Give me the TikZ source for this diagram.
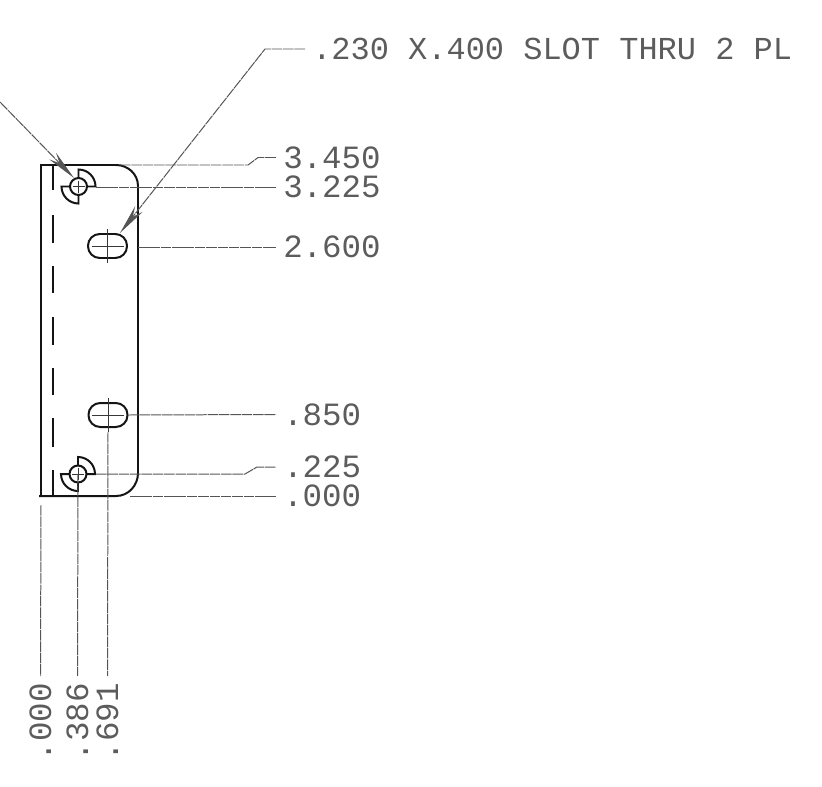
\documentclass[tikz,border=0pt]{standalone}
\usepackage{xcolor}
\usepackage{fontspec}
\setmonofont{Liberation Mono}
\usetikzlibrary{arrows.meta}
\definecolor{Ink}{HTML}{141414}
\definecolor{Lead}{HTML}{555555}
\definecolor{Lettering}{HTML}{5c5c5c}
\tikzset{
  part/.style={draw=Ink, line width=1.7pt},
  centerln/.style={draw=Ink!85, line width=0.8pt},
  leader/.style={draw=Lead, line width=0.85pt, dash pattern=on 9pt off 0.7pt},
  pointer/.style={leader, -{Stealth[length=26pt, width=8pt, fill=Lead]}},
  dimlabel/.style={anchor=west, text=Lettering, inner xsep=6pt, inner ysep=0pt, text height=18pt, text depth=0pt, font=\fontsize{27.7}{30}\selectfont\ttfamily},
  notelabel/.style={dimlabel, font=\fontsize{27.3}{30}\selectfont\ttfamily},
  dimlabelup/.style={dimlabel, rotate=90, anchor=east, inner xsep=6pt}
}
\begin{document}
\begin{tikzpicture}[x=0.03cm, y=-0.03cm]%
\useasboundingbox (0,0) rectangle (822,786);%
\draw[part] (41,496) -- (41,165) -- (116,165) to[out=0, in=90] (138,186) -- (138,473) to[out=90+180, in=0, looseness=1] (116,496) -- (39,496);%
\foreach \ya/\yb in {165/190, 215/243, 266/293, 317/345, 368/395, 418/447, 470/496} {%
  \draw[part] (53,\ya) -- (53,\yb);%
}%
\foreach \hx/\hy in {78.5/186.5, 78/474} {%
  \draw[part] (\hx,\hy) circle[radius=8.5];%
  \draw[part] (\hx,\hy-8.5) -- (\hx,\hy-17) arc[start angle=90, end angle=0, x radius=17, y radius=-17] -- (\hx+8.5,\hy);%
  \draw[part] (\hx-8.5,\hy) -- (\hx-17,\hy) arc[start angle=180, end angle=270, x radius=17, y radius=-17] -- (\hx,\hy+8.5);%
  \draw[centerln] (\hx-6,\hy) -- (\hx+6,\hy) (\hx,\hy-6) -- (\hx,\hy+6);%
}%
\foreach \sx/\sy in {107.5/246, 108/415} {%
  \draw[part, rounded corners=10pt] (\sx-19.5,\sy-12) rectangle (\sx+19.5,\sy+12);%
  \draw[centerln] (\sx-16,\sy) -- (\sx+16,\sy) (\sx,\sy-17) -- (\sx,\sy+17);%
}%
\node[notelabel] (slotnote) at (305,49) {.230 X.400 SLOT THRU 2 PL};%
\node[dimlabel] (dimA) at (276,157.5) {3.450};%
\node[dimlabel] (dimB) at (276,187) {3.225};%
\node[dimlabel] (dimC) at (276,247) {2.600};%
\node[dimlabel] (dimD) at (276,414.5) {.850};%
\node[dimlabel] (dimE) at (276,467) {.225};%
\node[dimlabel] (dimF) at (276,496) {.000};%
\node[dimlabelup] (dimG) at (40.5,676) {.000};%
\node[dimlabelup] (dimH) at (77.5,676) {.386};%
\node[dimlabelup] (dimI) at (107.5,676) {.691};%
\coordinate (slotbend) at (265,49);%
\coordinate (slottip) at (120,233);%
\coordinate (holestart) at (0,102);%
\coordinate (holetip) at (74,178);%
\coordinate (topedge) at (120,165);%
\coordinate (topbend) at (248,165);%
\coordinate (topbend2) at (258,157.5);%
\coordinate (holeA) at (96,187);%
\coordinate (slotA) at (138,247);%
\coordinate (slotB) at (128,415);%
\coordinate (holeB) at (96,474);%
\coordinate (lowbend) at (245,474);%
\coordinate (lowbend2) at (257,467);%
\coordinate (botedge) at (130,496);%
\coordinate (edgeleft) at (41,505);%
\coordinate (holeBc) at (78,474);%
\coordinate (slotBc) at (108,432);%
\draw[pointer] (slotnote.west) -- (slotbend) -- (slottip);%
\draw[pointer] (holestart) -- (holetip);%
\draw[leader] (topedge) -- (topbend) -- (topbend2) -- (dimA.west);%
\draw[leader] (holeA) -- (dimB.west);%
\draw[leader] (slotA) -- (dimC.west);%
\draw[leader] (slotB) -- (dimD.west);%
\draw[leader] (holeB) -- (lowbend) -- (lowbend2) -- (dimE.west);%
\draw[leader] (botedge) -- (dimF.west);%
\draw[leader] (edgeleft) -- (dimG.east);%
\draw[leader] (holeBc) -- (dimH.east);%
\draw[leader] (slotBc) -- (dimI.east);%
\end{tikzpicture}
\end{document}
